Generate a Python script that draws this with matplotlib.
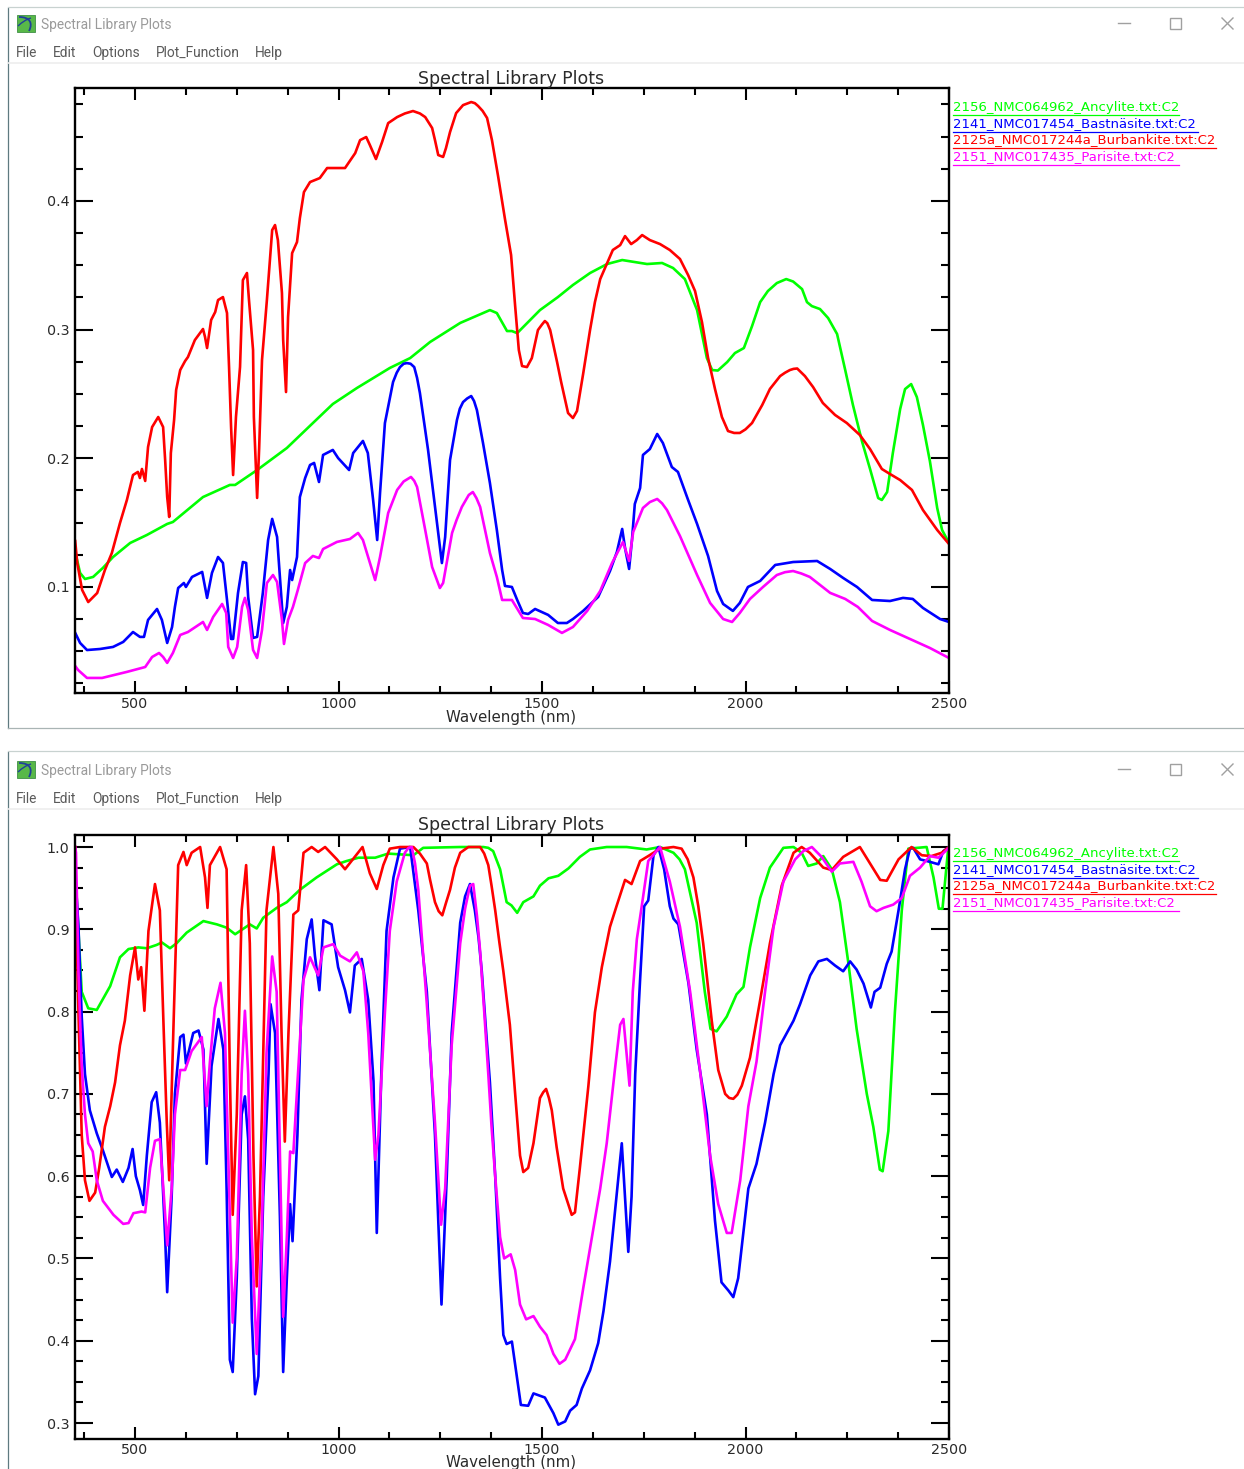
import matplotlib
matplotlib.use("Agg")
import matplotlib.pyplot as plt
from matplotlib.ticker import MultipleLocator, FormatStrFormatter
from matplotlib.patches import Rectangle, PathPatch
from matplotlib.path import Path

# ---------- window texts ----------
window_title = "Spectral Library Plots"
menu_items = ["File", "Edit", "Options", "Plot_Function", "Help"]
chart_title = "Spectral Library Plots"
x_label = "Wavelength (nm)"
legend_labels = ["2156_NMC064962_Ancylite.txt:C2",
                 "2141_NMC017454_Bastnäsite.txt:C2",
                 "2125a_NMC017244a_Burbankite.txt:C2",
                 "2151_NMC017435_Parisite.txt:C2"]
series_colors = ["#00ff00", "#0000ff", "#ff0000", "#ff00ff"]

# ---------- upper panel: reflectance ----------
top_green_w = [353,365,377,397,421,446,488,529,579,593,667,733,746,800,873,937,986,1045,1126,1176,1225,1299,1372,1389,1414,1426,1439,1495,1539,1576,1618,1660,1697,1758,1795,1822,1851,1881,1905,1918,1932,1955,1974,1996,2016,2036,2055,2077,2100,2117,2139,2151,2163,2183,2203,2225,2245,2264,2286,2306,2326,2335,2348,2362,2380,2392,2407,2421,2436,2453,2471,2483,2500]
top_green_r = [.1272,.1109,.1062,.1078,.1148,.1233,.1342,.1404,.149,.1505,.1699,.1793,.1793,.1909,.208,.2274,.2422,.2546,.2702,.2779,.2904,.3052,.3152,.3129,.2989,.2989,.2973,.3152,.3253,.3347,.344,.351,.3541,.351,.3518,.3479,.3393,.3152,.278,.2686,.2682,.2748,.2818,.2857,.3027,.3214,.33,.3362,.3393,.3374,.3315,.3214,.3183,.316,.309,.2966,.2686,.2414,.2134,.1917,.1691,.1676,.1738,.2041,.2383,.2538,.2577,.2476,.2259,.1979,.1614,.1443,.1342]

top_blue_w = [353,365,382,414,446,471,495,512,522,532,554,566,579,591,598,606,620,625,640,665,670,677,689,704,716,726,736,741,753,765,773,778,790,800,814,827,837,849,856,864,873,881,886,898,905,918,930,940,952,962,986,999,1026,1036,1060,1072,1085,1095,1102,1114,1134,1151,1168,1186,1200,1220,1237,1254,1262,1274,1291,1306,1326,1340,1355,1372,1389,1402,1409,1426,1439,1453,1466,1483,1515,1539,1561,1576,1601,1638,1667,1684,1697,1704,1714,1721,1728,1741,1748,1765,1783,1797,1819,1834,1859,1881,1908,1930,1945,1969,1986,2006,2036,2073,2117,2176,2208,2240,2274,2311,2355,2387,2411,2436,2478,2500,  1143,1160,1177,1193,1298,1316,1333]
top_blue_r = [.0643,.0565,.051,.0518,.0534,.0573,.065,.0612,.0612,.0744,.0829,.0744,.0565,.0689,.0845,.0992,.1031,.1,.1078,.1117,.1031,.0915,.1109,.1233,.1187,.0899,.0596,.0596,.0953,.1194,.1187,.0922,.0604,.0612,.0953,.1365,.1529,.1389,.1078,.072,.0845,.1132,.1054,.1233,.1699,.1847,.1948,.1964,.1816,.2026,.2065,.2002,.1909,.2041,.2135,.2041,.1676,.1365,.1731,.2274,.2593,.2709,.274,.2709,.2507,.2065,.1622,.1186,.1388,.1987,.2298,.2437,.2484,.2375,.2119,.1808,.1443,.1132,.1008,.1,.0899,.0798,.079,.0829,.0783,.072,.072,.0751,.0814,.0923,.1124,.1272,.1451,.1303,.114,.1365,.1645,.1769,.2026,.2072,.2189,.2119,.1932,.1894,.1676,.149,.1241,.0969,.0868,.0814,.0876,.1,.1047,.1171,.1194,.1202,.114,.107,.1,.0899,.0891,.0915,.0907,.0837,.0751,.0728,  .2665,.2735,.2735,.2625,.2385,.2465,.2445]

top_red_w = [353,358,370,385,407,426,443,463,480,495,507,512,517,525,532,542,557,569,574,579,584,588,596,601,611,623,630,647,667,672,677,687,697,704,716,726,731,736,741,748,758,765,775,780,790,792,800,805,812,824,837,844,851,861,864,871,876,886,898,905,915,930,954,972,1016,1041,1053,1068,1077,1092,1107,1122,1144,1183,1213,1230,1245,1257,1274,1289,1306,1326,1343,1365,1377,1392,1409,1424,1434,1443,1451,1463,1475,1490,1507,1520,1537,1547,1564,1576,1586,1601,1618,1630,1643,1660,1674,1692,1704,1719,1733,1746,1765,1790,1814,1839,1859,1876,1893,1908,1925,1942,1957,1986,2016,2041,2060,2085,2109,2127,2146,2166,2190,2220,2249,2281,2306,2335,2355,2380,2409,2436,2471,2500,  1163,1200,1237,1264,1335,1354,1972,2000,2097,2118,1500,1513]
top_red_r = [.1357,.1186,.0977,.0883,.0953,.1132,.1264,.1497,.1676,.187,.1894,.1847,.1917,.1824,.2088,.2243,.2321,.2243,.1987,.1699,.1544,.2041,.2298,.2531,.2686,.2756,.2787,.2919,.3005,.2943,.2857,.3075,.3137,.323,.3253,.3129,.271,.2243,.187,.2321,.271,.3385,.344,.323,.2841,.2321,.1692,.208,.2764,.323,.3774,.3813,.3696,.3284,.2919,.2515,.3098,.3595,.3681,.3867,.4069,.4147,.4178,.4256,.4256,.4372,.4473,.4497,.4435,.4326,.4458,.4605,.4652,.4699,.4652,.4567,.4357,.4342,.4536,.4683,.4745,.4769,.4738,.4645,.4473,.4194,.3859,.358,.3183,.2842,.2717,.2709,.2779,.2997,.3067,.2997,.2748,.2593,.2352,.2313,.2368,.2655,.2997,.3214,.3393,.3518,.3619,.3657,.3727,.3665,.3696,.3735,.3696,.3665,.3619,.3549,.3424,.33,.3059,.278,.2539,.2321,.2212,.2197,.2274,.2414,.2539,.2639,.2686,.2698,.2639,.2554,.243,.2337,.2274,.2181,.2072,.1917,.1878,.1831,.1754,.1598,.1443,.1334,  .468,.468,.4473,.4411,.476,.470,.2197,.2225,.2665,.2695,.304,.305]

top_mag_w = [353,360,382,419,480,525,542,559,569,579,593,611,630,667,677,692,714,724,729,741,751,763,770,778,790,800,812,824,839,849,861,866,876,888,900,918,937,952,962,996,1028,1048,1060,1090,1102,1122,1144,1178,1193,1213,1230,1249,1257,1279,1303,1330,1348,1372,1389,1402,1426,1453,1483,1515,1549,1576,1611,1643,1672,1699,1714,1724,1748,1783,1807,1839,1881,1913,1945,1967,1986,2011,2043,2077,2117,2158,2208,2245,2276,2311,2355,2404,2453,2500,  1160,1186,1290,1320,1339,1765,1795,2097,2137]
top_mag_r = [.0386,.0355,.0293,.0293,.034,.0378,.0456,.0487,.0456,.041,.0487,.0627,.065,.0728,.0666,.0767,.0868,.0798,.0534,.0448,.0534,.0845,.0915,.0821,.0511,.0448,.0666,.1031,.1093,.1039,.0744,.0557,.0744,.0845,.0977,.1186,.1241,.1225,.1295,.135,.1373,.142,.1365,.1054,.1233,.1575,.1754,.1855,.1777,.1443,.1155,.0992,.1031,.142,.1622,.1738,.1622,.1264,.1078,.0899,.0899,.0759,.0751,.0705,.0643,.0689,.0814,.0969,.1186,.135,.1202,.1427,.1614,.1684,.1598,.1396,.1093,.0876,.0751,.0728,.0798,.0907,.1,.1093,.1124,.1078,.0954,.0907,.0845,.0736,.0666,.0596,.0526,.0448,  .182,.1825,.152,.1715,.169,.166,.165,.1115,.1105]

# ---------- lower panel: continuum removed ----------
low_green_w = [353,361,369,385,406,439,463,484,508,529,553,566,586,602,627,668,701,725,746,782,799,815,848,873,905,946,996,1020,1049,1090,1122,1184,1208,1298,1356,1380,1397,1413,1425,1439,1454,1479,1495,1516,1540,1565,1593,1618,1659,1708,1757,1790,1823,1851,1880,1900,1914,1929,1954,1978,1995,2011,2036,2060,2093,2118,2138,2154,2175,2191,2212,2232,2253,2273,2298,2314,2330,2337,2351,2367,2384,2400,2445,2462,2475,2484,2498,2500,  1368,1838]
low_green_r = [.973,.898,.824,.804,.802,.831,.866,.876,.878,.877,.881,.884,.877,.883,.896,.910,.906,.902,.894,.906,.901,.914,.926,.933,.948,.963,.979,.983,.987,.987,.992,.990,.999,1.0,1.0,.995,.973,.933,.929,.920,.933,.940,.953,.962,.965,.974,.988,.997,1.0,1.0,.997,1.0,.993,.973,.908,.824,.779,.776,.794,.821,.830,.878,.938,.975,.999,1.0,.993,.977,.980,.989,.973,.933,.858,.779,.700,.660,.608,.606,.655,.799,.923,.998,1.0,.963,.925,.925,.998,1.0,  .999,.985]

low_blue_w = [353,361,369,377,389,406,422,443,455,470,484,494,502,512,520,529,541,552,561,574,579,590,598,611,619,625,643,656,668,676,688,705,717,725,733,740,750,762,770,778,787,795,803,815,828,833,844,856,864,873,881,887,899,909,922,934,942,953,963,983,999,1016,1028,1040,1057,1073,1086,1094,1106,1118,1135,1151,1176,1196,1217,1237,1253,1266,1278,1299,1323,1335,1352,1372,1385,1397,1405,1413,1426,1438,1448,1466,1479,1507,1528,1540,1557,1569,1585,1598,1618,1638,1651,1667,1683,1696,1704,1712,1720,1729,1741,1751,1761,1774,1786,1800,1814,1823,1835,1860,1880,1905,1925,1941,1958,1970,1982,2007,2027,2048,2069,2085,2118,2134,2159,2179,2200,2220,2240,2257,2273,2290,2308,2317,2331,2347,2359,2376,2392,2404,2412,2429,2453,2474,2486,2500,  1311,1344,1362]
low_blue_r = [.968,.903,.794,.724,.680,.652,.630,.599,.608,.593,.610,.633,.600,.583,.565,.625,.690,.702,.665,.526,.459,.575,.700,.769,.772,.737,.774,.777,.754,.615,.734,.791,.754,.585,.377,.362,.476,.675,.697,.645,.427,.335,.357,.575,.724,.809,.774,.551,.362,.476,.566,.521,.650,.814,.888,.912,.868,.826,.911,.906,.854,.826,.799,.856,.864,.814,.715,.531,.739,.898,.963,.998,1.0,.923,.824,.650,.444,.600,.774,.908,.955,.923,.849,.714,.600,.476,.407,.396,.399,.357,.322,.321,.336,.331,.312,.298,.302,.315,.322,.342,.364,.397,.436,.496,.575,.640,.575,.508,.575,.724,.839,.928,.935,.990,1.0,.973,.928,.913,.906,.834,.754,.675,.546,.471,.461,.453,.476,.585,.615,.665,.724,.759,.789,.809,.844,.861,.864,.856,.849,.861,.851,.834,.805,.824,.829,.858,.873,.923,.973,.998,.999,.985,.982,.979,.995,1.0,  .94,.89,.78]

low_red_w = [353,355,361,369,377,388,402,412,426,439,451,463,475,488,500,508,515,523,533,549,561,570,578,584,594,606,619,627,639,660,672,678,684,709,725,733,740,750,762,773,782,791,799,807,823,840,852,860,868,877,889,901,914,934,950,967,996,1016,1040,1059,1077,1094,1110,1126,1151,1184,1217,1237,1255,1274,1299,1319,1348,1368,1385,1405,1421,1434,1446,1454,1466,1479,1495,1510,1524,1536,1552,1573,1581,1593,1614,1630,1647,1667,1683,1704,1720,1741,1761,1790,1823,1843,1872,1896,1917,1933,1950,1970,1991,2011,2036,2060,2089,2118,2138,2158,2191,2212,2240,2281,2306,2331,2347,2376,2408,2433,2457,2482,2500,  1200,1225,1246,1264,1286,1358,1376,1395,1413,1503,1517,1858,1884,1960,1980]
low_red_r = [1.0,.923,.799,.650,.595,.570,.580,.610,.660,.685,.714,.759,.789,.844,.878,.839,.854,.801,.898,.955,.923,.784,.665,.595,.774,.978,.994,.978,.993,1.0,.963,.926,.978,1.0,.973,.724,.553,.675,.923,.978,.883,.625,.466,.575,.923,1.0,.943,.774,.642,.774,.918,.923,.993,1.0,.994,1.0,.985,.973,.988,1.0,.968,.949,.978,.998,1.0,1.0,.980,.933,.917,.948,.993,1.0,1.0,.978,.923,.849,.784,.700,.625,.605,.610,.640,.695,.706,.680,.635,.585,.553,.556,.610,.710,.799,.854,.903,.928,.960,.955,.983,.989,.998,1.0,.998,.963,.883,.789,.729,.700,.694,.710,.744,.814,.883,.953,.993,1.0,.993,.975,.972,.988,1.0,.980,.960,.959,.985,1.0,.990,.989,.993,1.0,  .992,.960,.922,.932,.975,.992,.953,.885,.817,.702,.695,.985,.928,.695,.699]

low_mag_w = [353,355,361,369,377,385,396,406,421,447,471,484,496,516,525,537,549,561,571,579,590,598,611,623,639,664,676,684,696,710,721,729,740,750,762,770,778,787,799,811,823,837,848,856,864,873,881,889,901,914,930,950,963,987,1004,1028,1045,1061,1073,1090,1098,1114,1126,1143,1163,1180,1196,1217,1237,1252,1262,1278,1299,1323,1331,1348,1368,1385,1397,1407,1423,1434,1446,1461,1479,1495,1511,1528,1543,1557,1581,1602,1626,1643,1659,1679,1692,1700,1715,1723,1733,1745,1761,1790,1814,1839,1864,1888,1913,1933,1954,1966,1987,2007,2027,2048,2069,2093,2122,2142,2163,2187,2212,2232,2265,2285,2306,2322,2339,2363,2384,2404,2429,2453,2474,2500,  1172,1188,1311,1340,1358,1376]
low_mag_r = [1.0,.993,.849,.734,.675,.640,.630,.595,.570,.553,.542,.543,.555,.557,.556,.610,.643,.645,.575,.516,.585,.675,.729,.729,.752,.769,.685,.739,.804,.835,.774,.625,.422,.501,.724,.801,.724,.526,.384,.526,.749,.867,.824,.625,.429,.526,.630,.628,.729,.839,.866,.844,.878,.882,.868,.861,.872,.849,.774,.620,.650,.799,.898,.958,.993,1.0,.948,.809,.665,.541,.585,.759,.883,.953,.955,.873,.724,.600,.526,.500,.505,.486,.444,.426,.430,.417,.407,.384,.372,.377,.402,.466,.536,.585,.640,.729,.784,.791,.710,.824,.888,.928,.983,1.0,.958,.903,.824,.729,.625,.566,.531,.531,.595,.685,.739,.824,.903,.958,.985,.995,1.0,.988,.970,.980,.982,.958,.928,.922,.926,.930,.938,.965,.975,.989,.987,.999,  .999,.98,.925,.917,.80,.66]

x_major_ticks = [500, 1000, 1500, 2000, 2500]

W, H = 1244, 1469
fig = plt.figure(figsize=(W/100, H/100), dpi=100, facecolor="white")
plt.rcParams["font.family"] = ["DejaVu Sans"]
TXT = "#2a2a2a"
WIN_OFF = [0, 746]


def plot_axes(top, bottom, ylim, major_y, fmt, series):
    ax = fig.add_axes([75/W, 1-bottom/H, (949-75)/W, (bottom-top)/H], zorder=2)
    for (wl, val), col in zip(series, series_colors):
        pts = sorted(zip(wl, val), key=lambda p: p[0])
        ax.plot([p[0] for p in pts], [p[1] for p in pts], color=col, lw=1.9,
                solid_joinstyle="round")
    ax.set_xlim(352.5, 2500)
    ax.set_ylim(*ylim)
    ax.xaxis.set_major_locator(plt.FixedLocator(x_major_ticks))
    ax.xaxis.set_minor_locator(MultipleLocator(125))
    ax.yaxis.set_major_locator(MultipleLocator(major_y))
    ax.yaxis.set_minor_locator(MultipleLocator(major_y/4))
    ax.yaxis.set_major_formatter(FormatStrFormatter(fmt))
    ax.tick_params(axis="both", which="both", direction="in", top=True, right=True,
                   width=1.5, colors="black", labelcolor=TXT, labelsize=10.3)
    ax.tick_params(axis="x", which="major", length=8.5, pad=3)
    ax.tick_params(axis="x", which="minor", length=5)
    ax.tick_params(axis="y", which="major", length=13, pad=4)
    ax.tick_params(axis="y", which="minor", length=6)
    for s in ax.spines.values():
        s.set_linewidth(1.7)
    return ax


plot_axes(88, 693, (0.0176, 0.4878), 0.1, "%.1f",
          [(top_green_w, top_green_r), (top_blue_w, top_blue_r),
           (top_red_w, top_red_r), (top_mag_w, top_mag_r)])
plot_axes(835, 1439, (0.2806, 1.0146), 0.1, "%.1f",
          [(low_green_w, low_green_r), (low_blue_w, low_blue_r),
           (low_red_w, low_red_r), (low_mag_w, low_mag_r)])

# overlay in pixel coordinates for the window furniture
ov = fig.add_axes([0, 0, 1, 1], zorder=3)
ov.set_xlim(0, W)
ov.set_ylim(H, 0)
ov.axis("off")

menu_x = [16, 53, 92, 156, 255]
legend_y = [107, 124, 140, 157]
under_end = [1179, 1198, 1216, 1179]
GREY = "#a0a0a0"

for off, win_top, win_bottom in zip(WIN_OFF, [8, 752], [728, 1469]):
    ov.plot([8, 8], [win_top, win_bottom], color="#5f7a80", lw=0.9)
    ov.plot([8, 1244], [win_top-1, win_top-1], color="#c8d2d0", lw=0.9)
    if win_bottom < H:
        ov.plot([8, 1244], [win_bottom, win_bottom], color="#a9b4b4", lw=0.9)
    ov.plot([8, 1244], [63+off, 63+off], color="#ededed", lw=1.2)
    # icon
    ov.add_patch(Rectangle((17, 15+off), 18, 17, fc="#58b848", ec="#3f8f45", lw=0.6))
    ov.add_patch(PathPatch(Path([(19, 17+off), (30, 17+off), (33, 23+off), (29, 31+off)],
                                [Path.MOVETO, Path.CURVE4, Path.CURVE4, Path.CURVE4]),
                           fc="none", ec="#20409a", lw=1.3))
    ov.add_patch(PathPatch(Path([(18, 26+off), (24, 20+off), (31, 18+off)],
                                [Path.MOVETO, Path.CURVE3, Path.CURVE3]),
                           fc="none", ec="#20409a", lw=1.0))
    ov.text(41, 24.5+off, window_title, fontsize=9.9, family="Roboto", color="#9a9a9a",
            ha="left", va="center")
    for mx, item in zip(menu_x, menu_items):
        ov.text(mx, 53+off, item, fontsize=9.9, family="Roboto", color="#5a5a5a",
                ha="left", va="center")
    # window buttons
    ov.plot([1118, 1130], [23+off, 23+off], color=GREY, lw=1.0)
    ov.add_patch(Rectangle((1170, 18+off), 10.5, 10.5, fc="none", ec=GREY, lw=1.0))
    ov.plot([1222, 1233], [18+off, 29+off], color=GREY, lw=1.0)
    ov.plot([1222, 1233], [29+off, 18+off], color=GREY, lw=1.0)
    # chart title and axis name
    ov.text(511.5, 78.5+off, chart_title, fontsize=12.5, color=TXT, ha="center", va="center")
    ov.text(511, 717+off, x_label, fontsize=10.8, color=TXT, ha="center", va="center")
    # legend
    for ly, lab, col, ue in zip(legend_y, legend_labels, series_colors, under_end):
        ov.text(953, ly+off, lab, fontsize=9.5, color=col, ha="left", va="center",
                family="DejaVu Sans")
        ov.plot([953, ue], [ly+7.5+off, ly+7.5+off], color=col, lw=0.9)

fig.savefig("out.png", dpi=100, facecolor="white")
